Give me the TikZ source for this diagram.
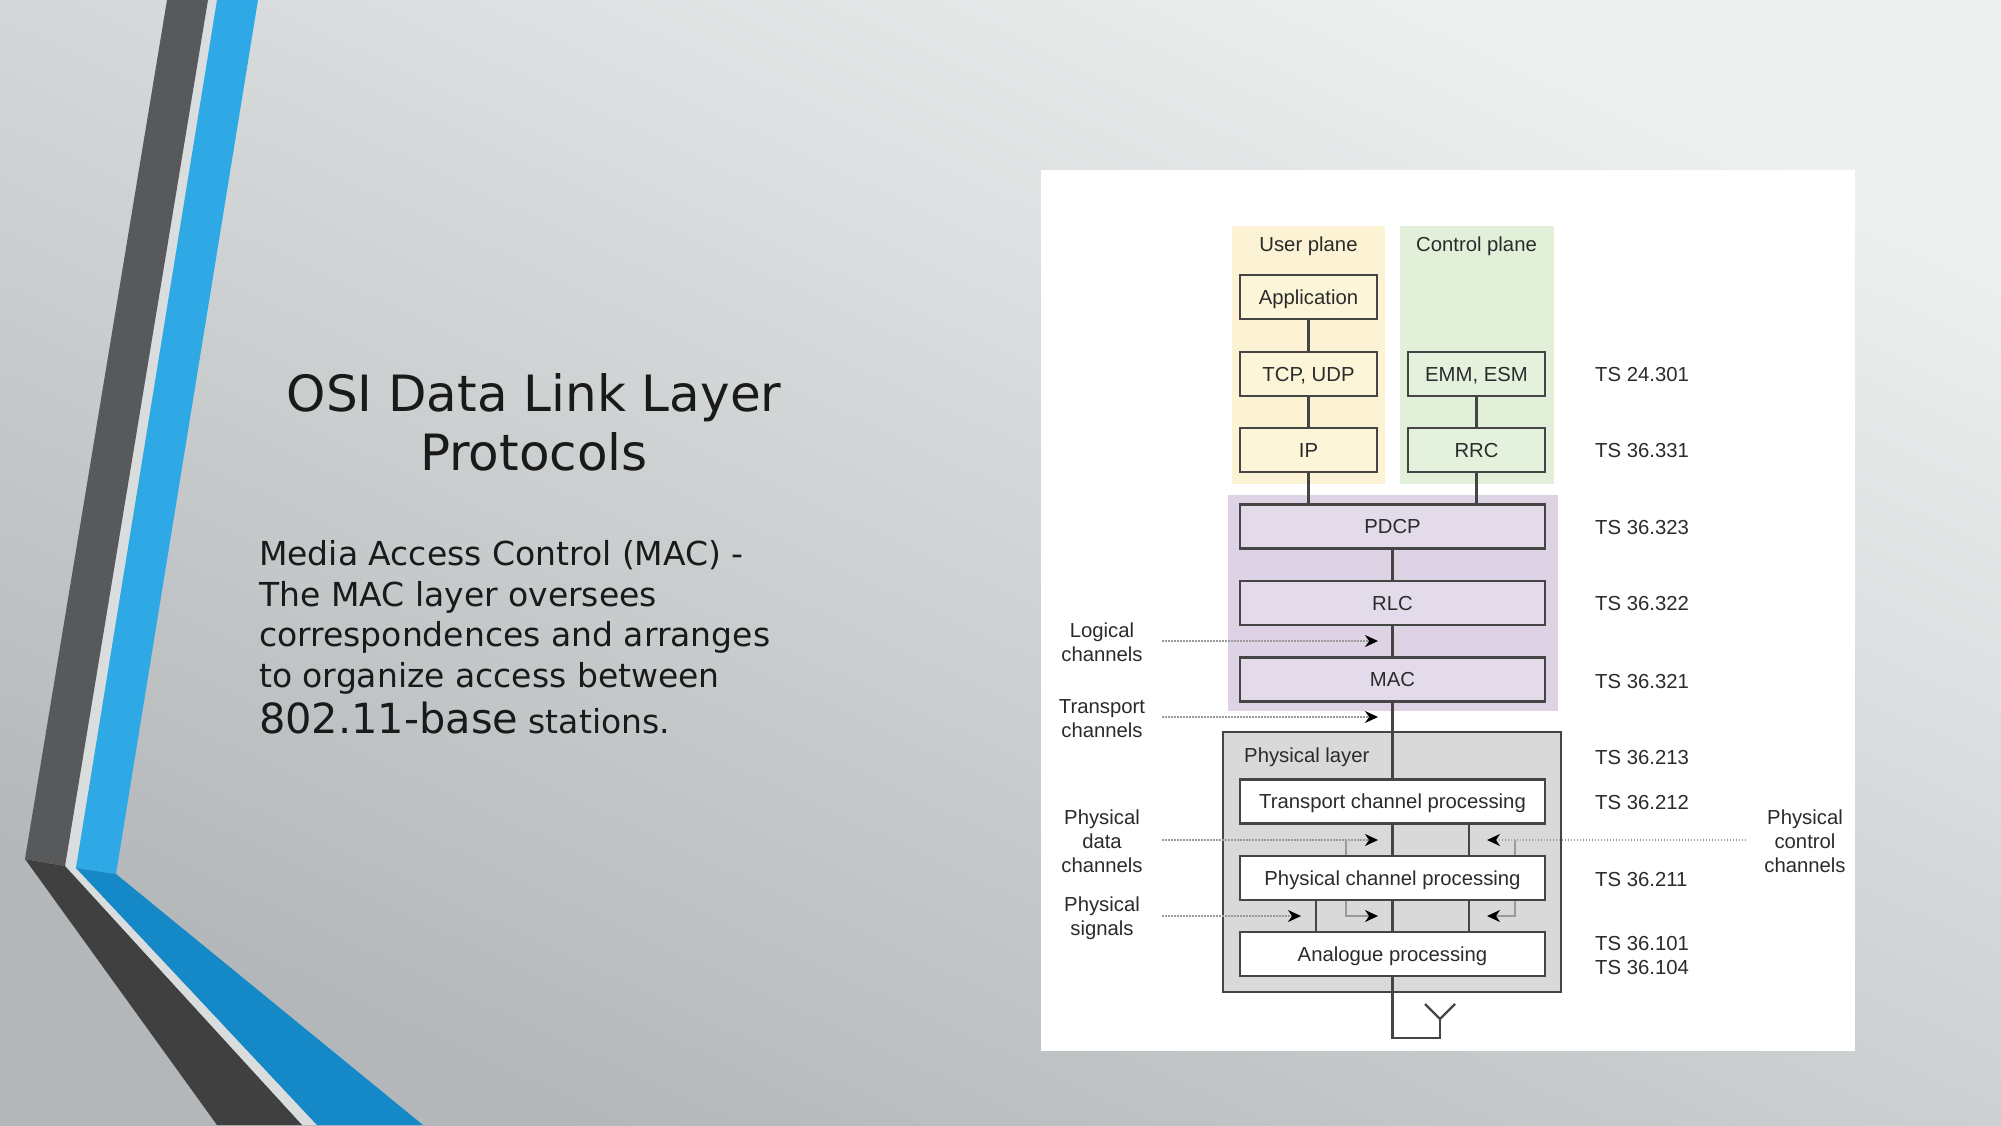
\documentclass[tikz,border=0pt]{standalone}
\usepackage{fontspec}
\setmainfont{DejaVu Sans}
\newfontfamily\diagfont{Liberation Sans}
\usetikzlibrary{arrows.meta}
\definecolor{bgtop}{HTML}{EEF0F0}
\definecolor{bgbot}{HTML}{B3B7B9}
\definecolor{darkA}{HTML}{58595B}
\definecolor{darkB}{HTML}{404041}
\definecolor{blueA}{HTML}{2EA9E6}
\definecolor{blueB}{HTML}{1589C7}
\definecolor{gapc}{HTML}{DADDDE}
\definecolor{slidetxt}{HTML}{1A1A1A}
\definecolor{txt}{HTML}{2B2B2B}
\definecolor{boxline}{HTML}{454545}
\definecolor{ubg}{HTML}{FBF3D3}
\definecolor{ufill}{HTML}{FCF5D8}
\definecolor{cbg}{HTML}{E2F0DA}
\definecolor{cfill}{HTML}{E4F2DD}
\definecolor{pbg}{HTML}{DDD3E5}
\definecolor{pfill}{HTML}{E3DAEA}
\definecolor{phybg}{HTML}{D9D9D9}
\definecolor{dotgray}{HTML}{9A9A9A}
\definecolor{brkgray}{HTML}{9A9A9A}
\begin{document}
\begin{tikzpicture}[x=1pt,y=-1pt,
  dfont/.style={font=\diagfont\fontsize{20.3}{24}\selectfont, text=txt},
  box/.style={dfont, draw=boxline, line width=2.2pt, minimum height=44pt, inner sep=0pt, text height=16pt, text depth=2pt},
  ubox/.style={box, fill=ufill, minimum width=137pt},
  cbox/.style={box, fill=cfill, minimum width=137pt},
  pbox/.style={box, fill=pfill, minimum width=305pt},
  wbox/.style={box, fill=white, minimum width=305pt},
  conn/.style={draw=boxline, line width=2.2pt},
  dotl/.style={draw=dotgray, line width=1.5pt, dash pattern=on 1.5pt off 1.5pt},
  brk/.style={draw=brkgray, line width=1.4pt},
  arr/.style={-{Stealth[length=13pt,width=12pt,inset=4pt,color=black]}},
  lab/.style={dfont, inner sep=0pt, align=center},
  tslab/.style={dfont, inner sep=0pt, anchor=west, align=left},
  titletxt/.style={font=\fontsize{50}{60}\selectfont, text=slidetxt, inner sep=0pt, anchor=base},
  bodytxt/.style={font=\fontsize{33}{40}\selectfont, text=slidetxt, inner sep=0pt, anchor=base west}
]
\useasboundingbox (0,0) rectangle (2001,1125);
% slide background
\shade[top color=bgtop, bottom color=bgbot, shading angle=-25] (0pt,0pt) rectangle (2001pt,-1125pt);
% decorative stripes
\fill[gapc] (208,0) -- (217,0) -- (76,868) -- (317,1125) -- (302,1125) -- (65,866) -- cycle;
\fill[darkA] (167,0) -- (208,0) -- (65,866) -- (25,859) -- cycle;
\fill[darkB] (25,859) -- (65,866) -- (302,1125) -- (217,1125) -- cycle;
\fill[blueA] (217,0) -- (258,0) -- (116,874) -- (76,868) -- cycle;
\fill[blueB] (76,868) -- (116,874) -- (423,1125) -- (317,1125) -- cycle;
% slide text
\node[titletxt] (t1) at (534,411) {OSI Data Link Layer};
\node[titletxt] (t2) at (534,470) {Protocols};
\node[bodytxt] (b1) at (259,565) {Media Access Control (MAC) -};
\node[bodytxt] (b2) at (259,606) {The MAC layer oversees};
\node[bodytxt] (b3) at (259,646) {correspondences and arranges};
\node[bodytxt] (b4) at (259,687) {to organize access between};
\node[bodytxt] (b5) at (259,733) {{\fontsize{41.5}{48}\selectfont 802.11-base} stations.};
% diagram panel
\fill[white] (1041,170) rectangle (1855,1051);
\fill[ubg] (1232,226) rectangle (1385,484);
\fill[cbg] (1400,226) rectangle (1554,484);
\fill[pbg] (1228,495) rectangle (1558,711);
\draw[fill=phybg, draw=boxline, line width=2.2pt] (1223,732) rectangle (1561,992);
\node[lab] (up) at (1308.5,246) {User plane};
\node[lab] (cp) at (1476.5,246) {Control plane};
\node[dfont, inner sep=0pt, anchor=west] (phl) at (1244,757) {Physical layer};
% boxes
\path
  node[ubox] (app) at (1308.5,297) {Application}
  node[ubox] (tcp) at (1308.5,374) {TCP, UDP}
  node[ubox] (ip) at (1308.5,450) {IP}
  node[cbox] (emm) at (1476.5,374) {EMM, ESM}
  node[cbox] (rrc) at (1476.5,450) {RRC}
  node[pbox] (pdcp) at (1392.5,526.5) {PDCP}
  node[pbox] (rlc) at (1392.5,603) {RLC}
  node[pbox] (mac) at (1392.5,679.5) {MAC}
  node[wbox] (tcproc) at (1392.5,801.5) {Transport channel processing}
  node[wbox] (pcproc) at (1392.5,878) {Physical channel processing}
  node[wbox] (anproc) at (1392.5,954) {Analogue processing};
% connectors
\draw[conn] (app.south) -- (tcp.north);
\draw[conn] (tcp.south) -- (ip.north);
\draw[conn] (ip.south) -- (ip.south |- pdcp.north);
\draw[conn] (emm.south) -- (rrc.north);
\draw[conn] (rrc.south) -- (rrc.south |- pdcp.north);
\draw[conn] (pdcp.south) -- (rlc.north);
\draw[conn] (rlc.south) -- (mac.north);
\draw[conn] (mac.south) -- (tcproc.north);
\draw[conn] (tcproc.south) -- (pcproc.north);
\draw[conn] (pcproc.south) -- (anproc.north);
\coordinate (vr) at (1469,0);
\coordinate (vl) at (1316,0);
\draw[conn] (tcproc.south -| vr) -- (pcproc.north -| vr);
\draw[conn] (pcproc.south -| vr) -- (anproc.north -| vr);
\draw[conn] (pcproc.south -| vl) -- (anproc.north -| vl);
% antenna
\coordinate (antb) at (1440,1038);
\coordinate (antf) at (1440,1019);
\coordinate (antl) at (1425,1004);
\coordinate (antr) at (1455,1004);
\draw[conn] (anproc.south) -- (anproc.south |- antb) -- (antb) -- (antf);
\draw[conn] (antl) -- (antf) -- (antr);
% channel arrows
\coordinate (lgS) at (1162,641);   \coordinate (lgE) at (1378,641);
\coordinate (trS) at (1162,717);   \coordinate (trE) at (1378,717);
\coordinate (pdS) at (1162,840);   \coordinate (pdE) at (1378,840);
\coordinate (pcS) at (1746,840);   \coordinate (pcE) at (1487,840);
\coordinate (psS) at (1162,916);   \coordinate (psE) at (1301,916);
\coordinate (bl) at (1346,0);
\coordinate (br) at (1515,0);
\draw[dotl, arr] (lgS) -- (lgE);
\draw[dotl, arr] (trS) -- (trE);
\draw[dotl, arr] (pdS) -- (pdE);
\draw[dotl, arr] (pcS) -- (pcE);
\draw[dotl, arr] (psS) -- (psE);
\draw[brk] (pdE -| bl) -- (pcproc.north -| bl);
\draw[brk] (pcE -| br) -- (pcproc.north -| br);
\draw[brk, arr] (pcproc.south -| bl) -- (psE -| bl) -- (psE -| pdE);
\draw[brk, arr] (pcproc.south -| br) -- (psE -| br) -- (psE -| pcE);
% redraw boxes on top of the connectors
\path
  node[ubox] at (app) {Application}
  node[ubox] at (tcp) {TCP, UDP}
  node[ubox] at (ip) {IP}
  node[cbox] at (emm) {EMM, ESM}
  node[cbox] at (rrc) {RRC}
  node[pbox] at (pdcp) {PDCP}
  node[pbox] at (rlc) {RLC}
  node[pbox] at (mac) {MAC}
  node[wbox] at (tcproc) {Transport channel processing}
  node[wbox] at (pcproc) {Physical channel processing}
  node[wbox] at (anproc) {Analogue processing};
% side labels
\node[lab] (l1) at (1102,642) {Logical\\channels};
\node[lab] (l2) at (1102,719) {Transport\\channels};
\node[lab] (l3) at (1102,841) {Physical\\data\\channels};
\node[lab] (l4) at (1102,918) {Physical\\signals};
\node[lab] (r1) at (1805,841) {Physical\\control\\channels};
% spec labels
\node[tslab] (s1) at (1595,375) {TS 24.301};
\node[tslab] (s2) at (1595,451) {TS 36.331};
\node[tslab] (s3) at (1595,528) {TS 36.323};
\node[tslab] (s4) at (1595,604) {TS 36.322};
\node[tslab] (s5) at (1595,681) {TS 36.321};
\node[tslab] (s6) at (1595,757) {TS 36.213};
\node[tslab] (s7) at (1595,802) {TS 36.212};
\node[tslab] (s8) at (1595,879) {TS 36.211};
\node[tslab] (s9) at (1595,955) {TS 36.101\\TS 36.104};
\end{tikzpicture}
\end{document}
